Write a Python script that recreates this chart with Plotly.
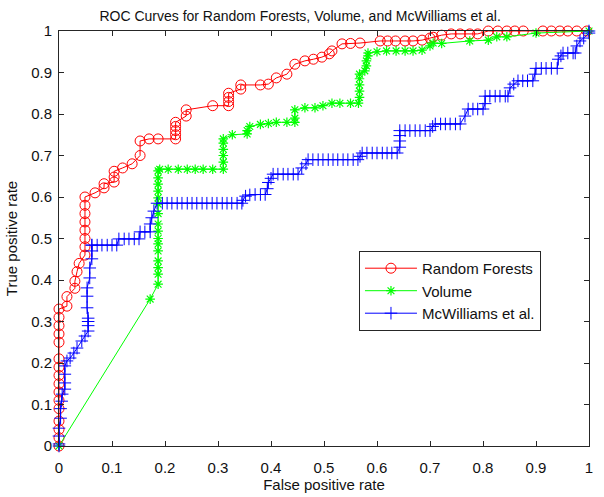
import plotly.graph_objects as go

# ---------------- data ----------------
rf_fpr = [0, 0, 0, 0, 0, 0, 0, 0, 0, 0, 0, 0, 0, 0, 0, 0,
          0.015, 0.015, 0.03, 0.03, 0.034, 0.038, 0.049, 0.049, 0.049, 0.049, 0.049, 0.049, 0.049, 0.049,
          0.068, 0.085, 0.085, 0.104, 0.104, 0.104, 0.12, 0.138, 0.153, 0.153, 0.17, 0.187,
          0.22, 0.22, 0.22, 0.22, 0.22, 0.24, 0.24, 0.29, 0.32, 0.32, 0.32, 0.32, 0.343, 0.343,
          0.38, 0.395, 0.41, 0.43, 0.445, 0.464, 0.48, 0.496, 0.51, 0.515, 0.534, 0.55, 0.568,
          0.606, 0.62, 0.635, 0.653, 0.668, 0.685, 0.70, 0.706, 0.722, 0.74, 0.757, 0.775, 0.79,
          0.81, 0.828, 0.845, 0.86, 0.876, 0.913, 0.929, 0.945, 0.96, 0.977, 0.996]
rf_tpr = [0, 0.02, 0.04, 0.06, 0.09, 0.11, 0.13, 0.15, 0.17, 0.19, 0.21, 0.25, 0.27, 0.29, 0.31, 0.33,
          0.337, 0.36, 0.38, 0.397, 0.42, 0.44, 0.46, 0.48, 0.50, 0.52, 0.54, 0.56, 0.58, 0.60,
          0.61, 0.622, 0.632, 0.636, 0.648, 0.662, 0.67, 0.68, 0.70, 0.735, 0.74, 0.74,
          0.74, 0.75, 0.76, 0.77, 0.78, 0.795, 0.81, 0.82, 0.82, 0.83, 0.84, 0.85, 0.86, 0.87,
          0.87, 0.872, 0.887, 0.896, 0.92, 0.928, 0.932, 0.937, 0.945, 0.952, 0.969, 0.97, 0.971,
          0.976, 0.976, 0.976, 0.976, 0.976, 0.978, 0.983, 0.985, 0.99, 0.993, 0.993, 0.993, 0.993,
          1, 1, 1, 1, 1, 1, 1, 1, 1, 1, 1]

vol_fpr = [0, 0.172, 0.187, 0.187, 0.187, 0.187, 0.187, 0.187, 0.187, 0.187, 0.187, 0.187, 0.187,
           0.187, 0.187, 0.187, 0.187, 0.187, 0.19, 0.206, 0.225, 0.242, 0.257, 0.272, 0.29, 0.31,
           0.31, 0.31, 0.31, 0.31, 0.31, 0.327, 0.355, 0.355, 0.36, 0.38, 0.395, 0.41, 0.43, 0.445,
           0.445, 0.445, 0.464, 0.483, 0.498, 0.515, 0.53, 0.55, 0.565, 0.567, 0.567, 0.567, 0.567,
           0.567, 0.577, 0.58, 0.58, 0.583, 0.583, 0.6, 0.618, 0.636, 0.653, 0.668, 0.685, 0.70,
           0.706, 0.722, 0.775, 0.81, 0.826, 0.845, 0.9, 1.0]
vol_tpr = [0, 0.354, 0.39, 0.414, 0.43, 0.446, 0.47, 0.487, 0.50, 0.518, 0.535, 0.56, 0.583,
           0.598, 0.614, 0.631, 0.646, 0.663, 0.667, 0.667, 0.667, 0.667, 0.667, 0.667, 0.667, 0.667,
           0.684, 0.70, 0.715, 0.73, 0.74, 0.75, 0.752, 0.76, 0.77, 0.775, 0.777, 0.78, 0.78, 0.78,
           0.79, 0.81, 0.815, 0.815, 0.82, 0.826, 0.826, 0.826, 0.826, 0.84, 0.855, 0.87, 0.885,
           0.896, 0.904, 0.916, 0.928, 0.94, 0.947, 0.95, 0.952, 0.952, 0.952, 0.952, 0.954, 0.964,
           0.971, 0.97, 0.976, 0.978, 0.986, 0.986, 0.995, 1.0]

mcw_fpr = [0, 0, 0, 0, 0.003, 0.003, 0.005, 0.006, 0.011, 0.011, 0.011, 0.011, 0.015,
           0.021, 0.028, 0.034, 0.043, 0.049, 0.055, 0.055, 0.055, 0.055,
           0.053, 0.053, 0.053, 0.058, 0.058, 0.062, 0.062, 0.062,
           0.062, 0.072, 0.081, 0.091, 0.1, 0.109, 0.113, 0.123, 0.132, 0.142, 0.151,
           0.153, 0.162, 0.172, 0.172, 0.175, 0.179, 0.185,
           0.195, 0.204, 0.213, 0.223, 0.232, 0.242, 0.251, 0.26, 0.27, 0.279, 0.289, 0.298,
           0.308, 0.317, 0.326, 0.336, 0.345, 0.347, 0.352, 0.36, 0.37, 0.38, 0.389,
           0.393, 0.395, 0.40, 0.404, 0.413, 0.423, 0.432, 0.442, 0.451, 0.458, 0.466,
           0.47, 0.479, 0.489, 0.498, 0.508, 0.517, 0.526, 0.536, 0.545, 0.555, 0.564,
           0.568, 0.572, 0.581, 0.591, 0.6, 0.61, 0.619, 0.628, 0.638,
           0.643, 0.643, 0.643, 0.643, 0.653, 0.662, 0.672, 0.681, 0.691, 0.70,
           0.705, 0.71, 0.72, 0.729, 0.738, 0.748, 0.757, 0.766, 0.772, 0.781, 0.79, 0.8,
           0.804, 0.804, 0.813, 0.823, 0.832, 0.842, 0.847, 0.851, 0.858, 0.866, 0.875, 0.884, 0.894,
           0.898, 0.90, 0.91, 0.919, 0.929, 0.94, 0.942, 0.947, 0.951, 0.96, 0.97, 0.974,
           0.977, 0.983, 0.99, 1.0, 1.0]
mcw_tpr = [0, 0.005, 0.024, 0.043, 0.067, 0.09, 0.108, 0.125, 0.137, 0.152, 0.173, 0.193, 0.205,
           0.212, 0.224, 0.236, 0.253, 0.265, 0.277, 0.29, 0.30, 0.308,
           0.333, 0.361, 0.381, 0.405, 0.429, 0.451, 0.47, 0.484,
           0.484, 0.484, 0.484, 0.484, 0.484, 0.484, 0.499, 0.499, 0.499, 0.499, 0.499,
           0.516, 0.516, 0.516, 0.535, 0.55, 0.566, 0.585,
           0.585, 0.585, 0.585, 0.585, 0.585, 0.585, 0.585, 0.585, 0.585, 0.585, 0.585, 0.585,
           0.585, 0.585, 0.585, 0.585, 0.585, 0.592, 0.602, 0.605, 0.606, 0.606, 0.606,
           0.62, 0.635, 0.645, 0.655, 0.655, 0.655, 0.655, 0.655, 0.655, 0.67, 0.68,
           0.69, 0.69, 0.69, 0.69, 0.69, 0.69, 0.69, 0.69, 0.69, 0.69, 0.69,
           0.698, 0.706, 0.706, 0.706, 0.706, 0.706, 0.706, 0.706, 0.706,
           0.72, 0.735, 0.748, 0.76, 0.76, 0.76, 0.76, 0.76, 0.76, 0.76,
           0.77, 0.776, 0.776, 0.776, 0.776, 0.776, 0.776, 0.795, 0.812, 0.812, 0.812, 0.812,
           0.825, 0.843, 0.843, 0.843, 0.843, 0.843, 0.843, 0.863, 0.872, 0.88, 0.88, 0.88, 0.88,
           0.896, 0.91, 0.91, 0.91, 0.91, 0.91, 0.932, 0.94, 0.947, 0.947, 0.947, 0.947,
           0.964, 0.976, 0.983, 0.995, 1.0]

series_names = ["Random Forests", "Volume", "McWilliams et al."]
tick_vals = [0, 0.1, 0.2, 0.3, 0.4, 0.5, 0.6, 0.7, 0.8, 0.9, 1]
tick_text = ["0", "0.1", "0.2", "0.3", "0.4", "0.5", "0.6", "0.7", "0.8", "0.9", "1"]

FONT = "Liberation Sans, Arial, Helvetica, sans-serif"

fig = go.Figure()
fig.add_trace(go.Scatter(
    x=rf_fpr, y=rf_tpr, mode="lines+markers", name=series_names[0],
    line=dict(color="#ff0000", width=1),
    marker=dict(symbol="circle-open", size=10, color="#ff0000", line=dict(width=1)),
    cliponaxis=False))
fig.add_trace(go.Scatter(
    x=vol_fpr, y=vol_tpr, mode="lines+markers", name=series_names[1],
    line=dict(color="#00ff00", width=1),
    marker=dict(symbol="asterisk-open", size=8, color="#00ff00", line=dict(width=1.2, color="#00ff00")),
    cliponaxis=False))
fig.add_trace(go.Scatter(
    x=mcw_fpr, y=mcw_tpr, mode="lines+markers", name=series_names[2],
    line=dict(color="#0000ff", width=1),
    marker=dict(symbol="cross-thin-open", size=9, color="#0000ff", line=dict(width=1, color="#0000ff")),
    cliponaxis=False))

axis_common = dict(
    range=[0, 1], tickmode="array", tickvals=tick_vals, ticktext=tick_text,
    showgrid=False, zeroline=False, showline=True, linecolor="#262626", linewidth=1,
    mirror="ticks", ticks="inside", ticklen=5, tickcolor="#262626", automargin=False,
    tickfont=dict(family=FONT, size=15, color="#111111"),
)

fig.update_layout(
    width=604, height=497,
    margin=dict(l=59, r=15, t=31, b=51),
    paper_bgcolor="white", plot_bgcolor="white",
    font=dict(family=FONT, color="#111111"),
    title=dict(text="ROC Curves for Random Forests, Volume, and McWilliams et al.",
               font=dict(family=FONT, size=14, color="#111111"),
               x=0.455, xref="paper", xanchor="center",
               y=1 - 16 / 497, yref="container", yanchor="middle"),
    xaxis=dict(**axis_common, ticklabelstandoff=8,
               title=dict(text="False positive rate", font=dict(family=FONT, size=15), standoff=4)),
    yaxis=dict(**axis_common, ticklabelstandoff=3,
               title=dict(text="True positive rate", font=dict(family=FONT, size=15), standoff=9)),
    legend=dict(x=0.566, y=0.47, xanchor="left", yanchor="top",
                bgcolor="white", bordercolor="#262626", borderwidth=1,
                font=dict(family=FONT, size=15, color="#111111"),
                tracegroupgap=0, itemwidth=52),
    showlegend=True,
)

fig.write_html("out.html", config={"displayModeBar": False},
               post_script="document.body.style.margin='0';")
